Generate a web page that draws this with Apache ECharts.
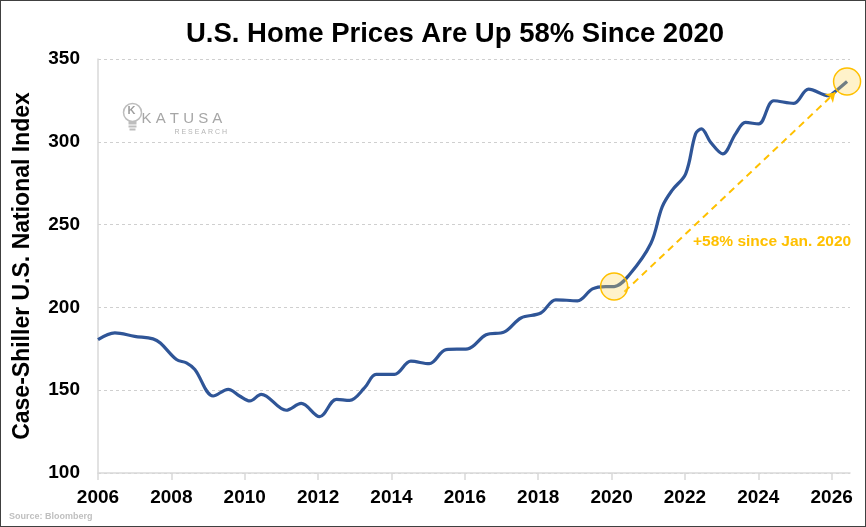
<!DOCTYPE html>
<html>
<head>
<meta charset="utf-8">
<script src="https://cdn.jsdelivr.net/npm/echarts@6/dist/echarts.min.js"></script>
<style>
html,body{margin:0;padding:0;background:#fff;}
#chart{width:866px;height:527px;box-sizing:border-box;border:1px solid #404040;}
</style>
</head>
<body>
<div id="chart"></div>
<script>
// Decimal years and Case-Shiller U.S. National Index values
const years = [2006.0, 2006.46, 2007.0, 2007.5, 2007.7, 2008.14, 2008.41, 2008.64, 2009.14, 2009.55, 2009.86, 2010.14, 2010.45, 2011.13, 2011.54, 2012.04, 2012.5, 2012.86, 2013.27, 2013.58, 2014.08, 2014.53, 2015.03, 2015.49, 2016.08, 2016.58, 2017.08, 2017.53, 2018.07, 2018.48, 2019.07, 2019.48, 2019.84, 2020.07, 2020.48, 2021.07, 2021.38, 2021.65, 2022.02, 2022.29, 2022.45, 2022.7, 2023.03, 2023.38, 2023.65, 2024.01, 2024.42, 2024.97, 2025.37, 2025.92, 2026.01, 2026.42];
const indexValues = [180.5, 184.6, 182.5, 181.0, 178.5, 168.5, 166.5, 162.5, 146.5, 150.5, 146.5, 143.5, 147.5, 137.9, 142.0, 134.0, 144.5, 143.9, 151.5, 159.5, 159.5, 167.5, 166.0, 174.5, 175.0, 183.5, 185.2, 193.6, 196.6, 204.6, 204.0, 211.2, 212.6, 212.6, 219.6, 238.6, 260.7, 270.7, 280.7, 304.8, 307.8, 299.7, 292.7, 304.8, 311.7, 310.8, 324.8, 323.2, 331.8, 327.8, 328.8, 336.4];
const xTicks = [2006, 2008, 2010, 2012, 2014, 2016, 2018, 2020, 2022, 2024, 2026];
const highlightPoints = [[2020.07, 212.6], [2026.42, 336.4]];
const arrowStart = [2020.35, 209.5];
const arrowEnd = [2026.1, 329.8];
const annotationText = '+58% since Jan. 2020';

const seriesData = years.map((y, i) => [y, indexValues[i]]);
const chart = echarts.init(document.getElementById('chart'));
const FONT = '"Liberation Sans", Arial, sans-serif';
chart.setOption({
  animation: false,
  title: {
    text: 'U.S. Home Prices Are Up 58% Since 2020',
    left: 180, top: 14,
    textStyle: { fontFamily: FONT, fontWeight: 'bold', fontSize: 27.5, color: '#000' }
  },
  grid: { left: 97, right: 15, top: 58, bottom: 53, containLabel: false },
  xAxis: {
    type: 'value', min: 2006, max: 2026.5, interval: 2,
    axisLine: { show: true, lineStyle: { color: '#D9D9D9', width: 1.5 } },
    axisTick: { show: true, length: 7, lineStyle: { color: '#D9D9D9', width: 1.5 }, customValues: xTicks },
    axisLabel: { fontFamily: FONT, fontWeight: 'bold', fontSize: 19, color: '#000', margin: 15,
      customValues: xTicks, formatter: v => String(v) },
    splitLine: { show: false }
  },
  yAxis: {
    type: 'value', min: 100, max: 350, interval: 50,
    name: 'Case-Shiller U.S. National Index', nameLocation: 'middle', nameGap: 64, nameRotate: 90,
    nameTextStyle: { fontFamily: FONT, fontWeight: 'bold', fontSize: 23, color: '#000' },
    axisLine: { show: true, lineStyle: { color: '#D9D9D9', width: 1.5 } },
    axisTick: { show: false },
    axisLabel: { fontFamily: FONT, fontWeight: 'bold', fontSize: 19, color: '#000', margin: 18 },
    splitLine: { show: true, lineStyle: { color: '#CFCFCF', type: [3, 3], width: 1 } }
  },
  series: [{
    type: 'line', data: seriesData, smooth: 0.35, showSymbol: false,
    lineStyle: { color: '#2F5597', width: 3.2 },
    markLine: {
      silent: true, symbol: ['none', 'arrow'], symbolSize: [9, 9],
      label: { show: false },
      lineStyle: { color: '#FFC000', type: [7, 5], width: 2 },
      data: [[{ coord: arrowStart }, { coord: arrowEnd }]]
    },
    markPoint: {
      silent: true, symbol: 'circle', symbolSize: 27,
      label: { show: false },
      itemStyle: { color: 'rgba(255,215,90,0.32)', borderColor: '#FFC000', borderWidth: 1.5 },
      data: highlightPoints.map(c => ({ coord: c }))
    }
  }],
  graphic: [
    { type: 'text', left: 692, top: 233, style: { text: annotationText, fill: '#FFC000',
      font: 'bold 15.5px "Liberation Sans", Arial, sans-serif' } },
    { type: 'text', left: 8, top: 511, style: { text: 'Source: Bloomberg', fill: '#BFBFBF',
      font: 'bold 9px "Liberation Sans", Arial, sans-serif' } },
    // Katusa Research watermark
    { type: 'group', left: 120, top: 100, children: [
      { type: 'circle', shape: { cx: 10, cy: 10, r: 9 }, style: { fill: 'none', stroke: '#BDBDBD', lineWidth: 1.5 } },
      { type: 'text', x: 5, y: 3, style: { text: 'K', fill: '#9E9E9E', font: 'bold 11px "Liberation Sans", Arial' } },
      { type: 'rect', shape: { x: 6, y: 19, width: 8, height: 3 }, style: { fill: '#BDBDBD' } },
      { type: 'rect', shape: { x: 6, y: 23, width: 8, height: 2 }, style: { fill: '#BDBDBD' } },
      { type: 'rect', shape: { x: 7, y: 26, width: 6, height: 2 }, style: { fill: '#BDBDBD' } },
      { type: 'text', x: 19, y: 9, style: { text: 'K A T U S A', fill: '#A6A6A6', font: '15px "Liberation Sans", Arial' } },
      { type: 'text', x: 52, y: 26, style: { text: 'R E S E A R C H', fill: '#B5B5B5', font: '7px "Liberation Sans", Arial' } }
    ] }
  ]
});
</script>
</body>
</html>
